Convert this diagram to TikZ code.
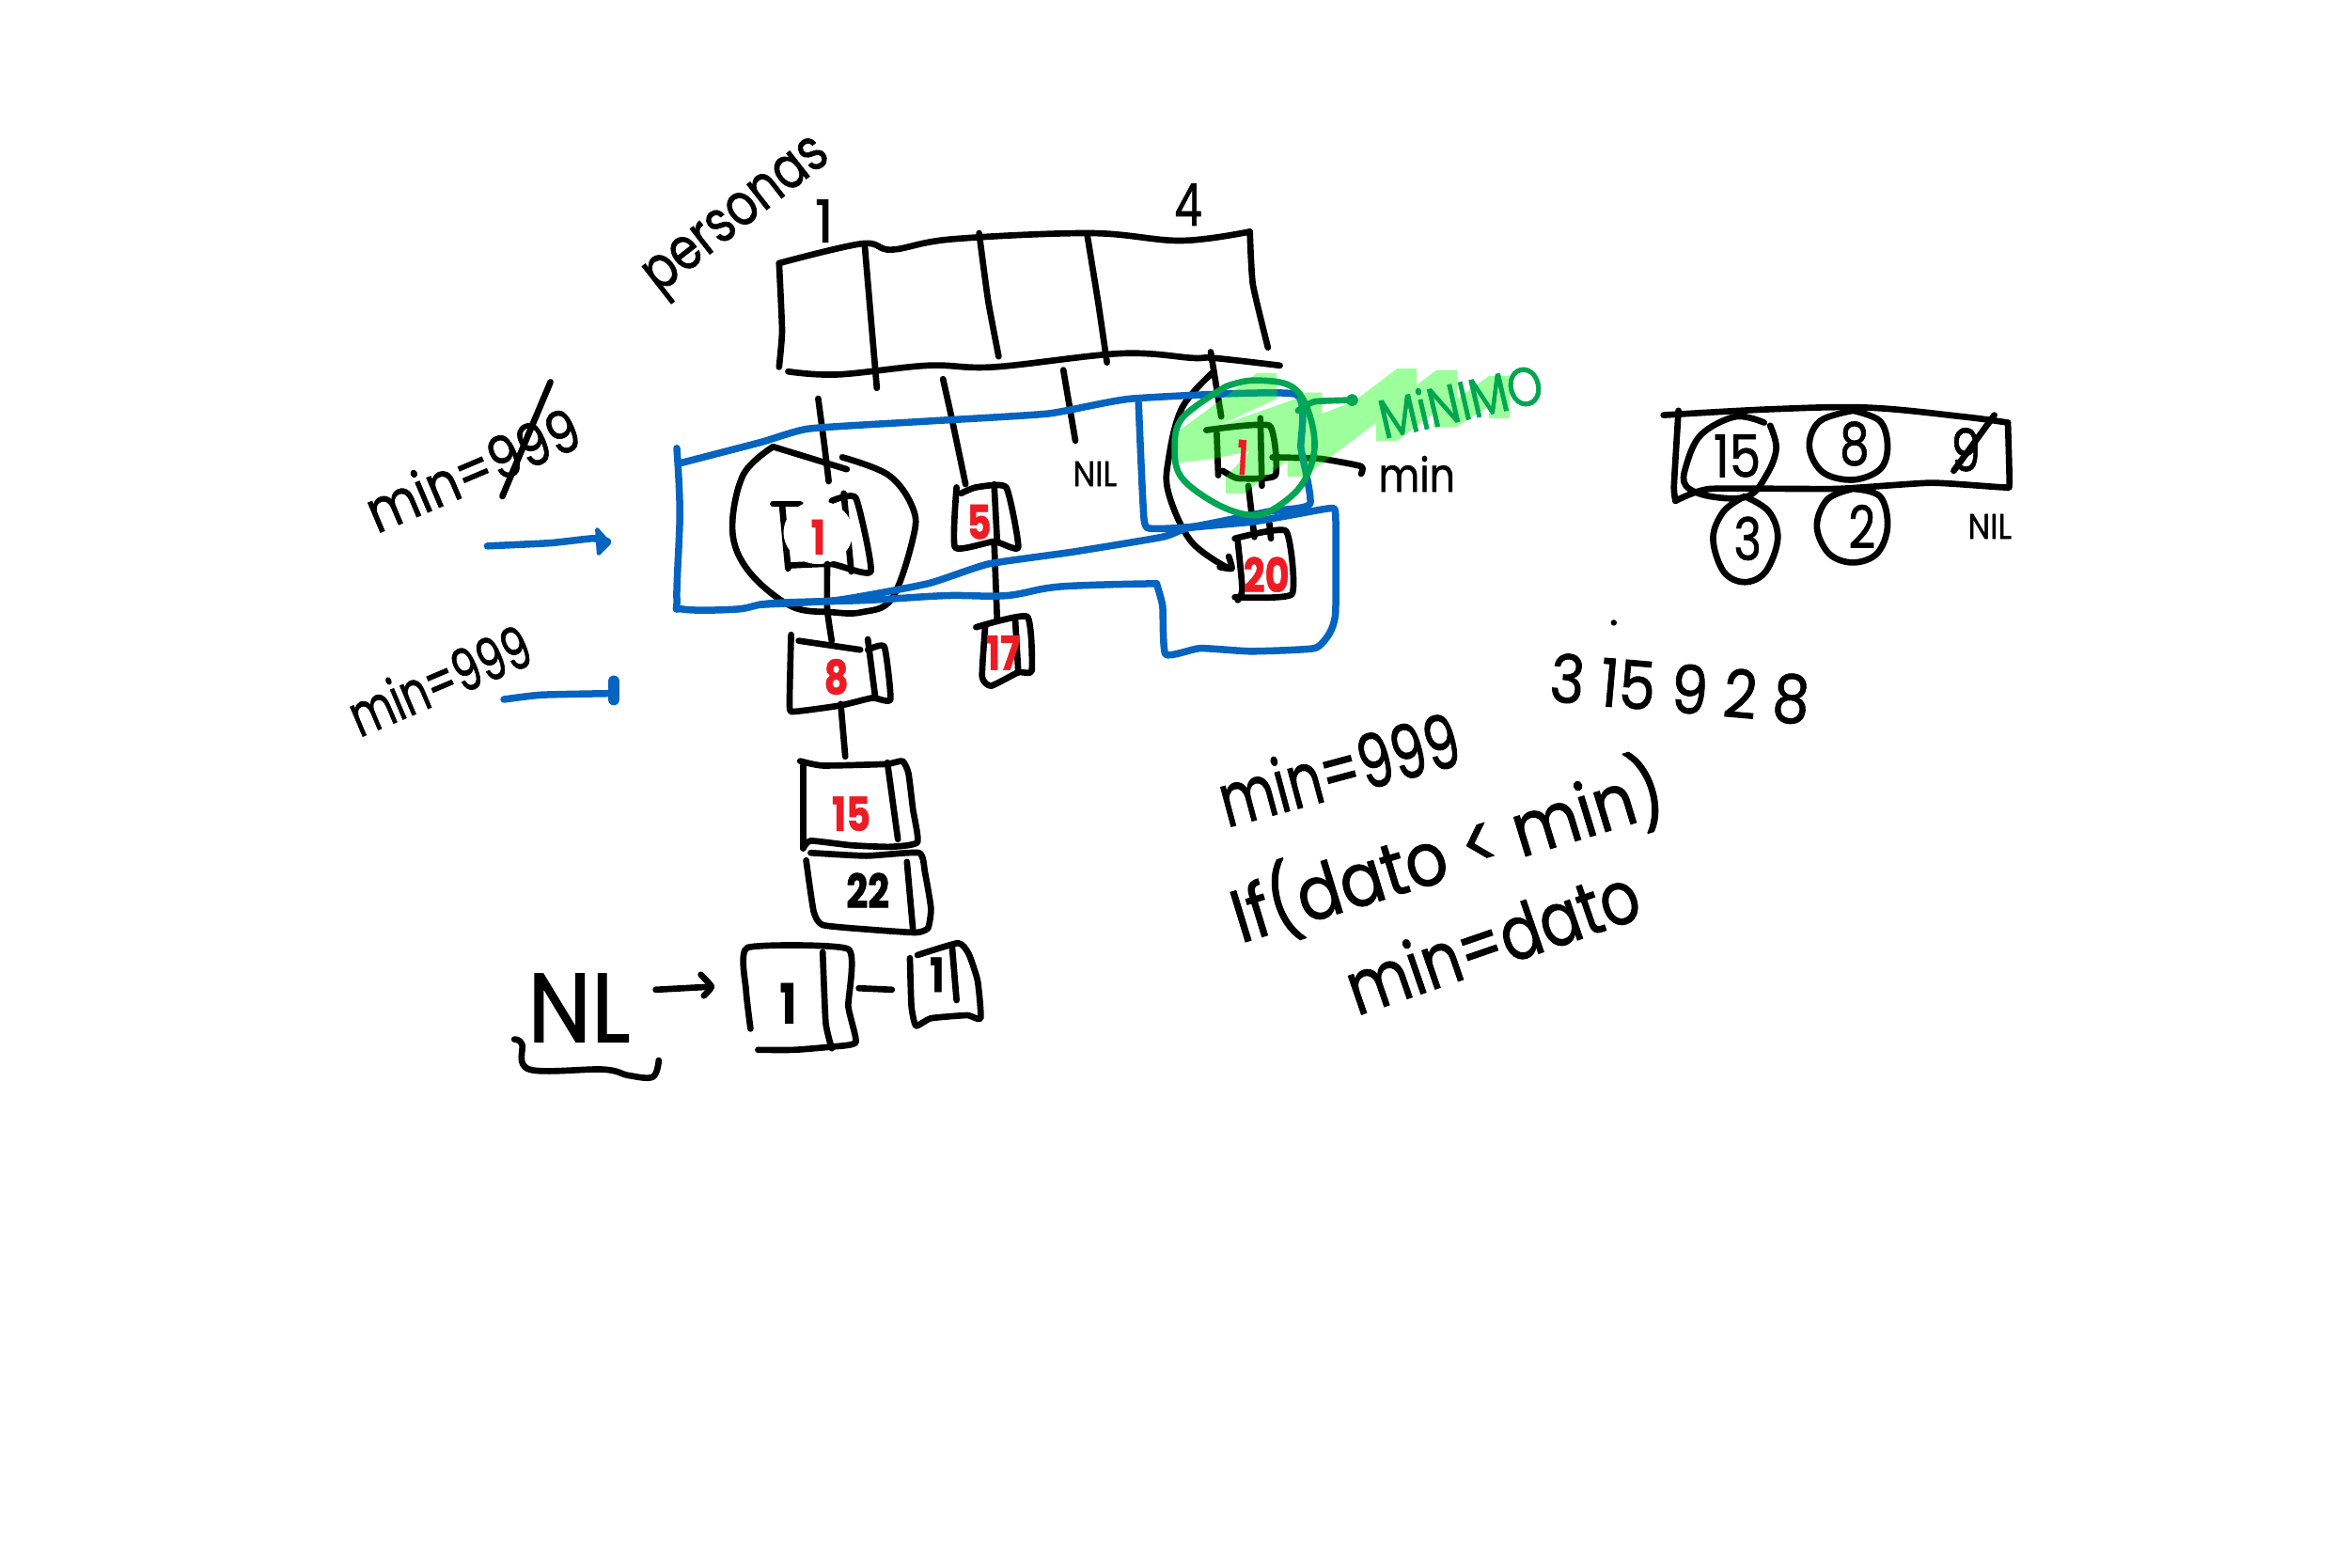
\documentclass[tikz,border=0pt]{standalone}
\usepackage{fontspec}
\setmainfont{Poppins}[FakeBold=1.2]
\definecolor{c0563c1}{RGB}{5,100,192}
\definecolor{c00a651}{RGB}{0,166,81}
\definecolor{ced1c24}{RGB}{237,28,36}
\definecolor{c00ff00}{RGB}{0,255,0}
\tikzset{
  ink/.style={draw=black,line width=1.6pt,line cap=round,line join=round},
  bluepen/.style={draw=c0563c1,line width=1.8pt,line cap=round,line join=round},
  greenpen/.style={draw=c00a651,line width=1.6pt,line cap=round,line join=round},
  redlabel/.style={text=ced1c24,font=\bfseries\fontsize{12}{12}\selectfont,xscale=.8},
  inklabel/.style={text=black,font=\fontsize{15}{15}\selectfont},
  smalllabel/.style={text=black,font=\fontsize{9}{9}\selectfont,xscale=.9}
}
\newcommand{\inkline}[2]{\path[#1] plot[smooth,tension=.3] coordinates {#2};}
\newcommand{\roundline}[2]{\path[#1] plot[smooth,tension=.6] coordinates {#2};}
\begin{document}
\begin{tikzpicture}[x=0.384pt, y=-0.384pt, inner sep=0pt, outer sep=0pt]
  \useasboundingbox (0,0) rectangle (1562.5,1041.875);

  % array
  \roundline{ink}{(518,175) (573,162) (593,166) (633,159) (725,155) (785,160) (831,154)}
  \inkline{ink}{(831,154) (833,189) (843,231)}
  \inkline{ink}{(518,175) (520,220) (518,244)}
  \roundline{ink}{(524,247) (557,249) (617,243) (661,244) (745,235) (793,238) (807,238) (851,243)}
  \inkline{ink}{(575,164) (583,258)}
  \inkline{ink}{(651,155) (657,200) (664,237)}
  \inkline{ink}{(723,157) (730,200) (736,241)}
  \node[inklabel,rotate=38,xscale=.8] (titulo) at (492,146) {personas};
  \node[inklabel] (cuno) at (548,147) {1};
  \node[inklabel,xscale=.75] (ccuatro) at (790,136) {4};

  % pointers
  \inkline{ink}{(544,265) (548,295) (551,320)}
  \inkline{ink}{(627,252) (633,279) (642,322)}
  \inkline{ink}{(707,246) (715,293)}
  \inkline{ink}{(805,234) (812,277)}
  \roundline{ink}{(807,247) (786,271) (777,305) (777,328) (792,360) (817,378)}
  \inkline{ink}{(817,370) (819,378) (811,377)}
  \node[smalllabel] (nilcuatro) at (728,315) {NIL};

  % first list
  \roundline{ink}{(560,304) (591,316) (607,338) (607,358) (593,398) (573,407) (553,407) (526,403) (498,380) (487,353) (494,316) (514,297)}
  \inkline{ink}{(514,297) (563,312)}
  \inkline{ink}{(514,335) (532,335)}
  \inkline{ink}{(520,336) (524,378)}
  \inkline{ink}{(524,376) (553,375) (579,380) (569,331) (553,333)}
  \inkline{ink}{(561,328) (566,380)}
  \fill[white] (544,354) ellipse (23 and 21);
  \inkline{ink}{(550,375) (550,405) (553,426)}
  \node[redlabel] (datouno) at (544,357) {1};

  \inkline{ink}{(526,422) (525,470) (529,473) (559,469) (580,464) (592,465) (588,430) (577,432)}
  \inkline{ink}{(531,426) (572,432)}
  \inkline{ink}{(577,425) (582,464)}
  \inkline{ink}{(559,468) (562,503)}
  \node[redlabel] (datoocho) at (556,450) {8};

  \inkline{ink}{(532,506) (547,509) (589,508) (600,506) (604,514) (607,538) (610,560) (592,563) (566,562) (539,559) (534,564)}
  \inkline{ink}{(534,509) (534,564)}
  \inkline{ink}{(590,507) (597,558)}
  \node[redlabel] (datoquince) at (566,541) {15};

  \inkline{ink}{(539,567) (576,569) (611,567) (615,580) (619,604) (617,617) (609,620) (578,618) (547,615) (541,606) (536,572)}
  \inkline{ink}{(603,573) (607,618)}
  \node[redlabel,text=black] (datoveintidos) at (577,592) {22};

  % second list
  \inkline{ink}{(636,324) (635,364) (661,360) (677,364) (669,324) (649,324) (639,328)}
  \inkline{ink}{(661,322) (663,360)}
  \inkline{ink}{(661,360) (663,412)}
  \node[redlabel] (datocinco) at (651,347) {5};
  \inkline{ink}{(649,417) (683,410) (686,446) (677,447) (659,456) (653,450) (655,417)}
  \inkline{ink}{(675,412) (677,446)}
  \node[redlabel] (datodiecisiete) at (667,434) {17};

  % fifth list
  \inkline{ink}{(802,286) (844,283) (848,316) (823,318) (813,313)}
  \inkline{ink}{(809,288) (810,316)}
  \inkline{ink}{(838,278) (839,323)}
  \inkline{ink}{(830,323) (834,357)}
  \inkline{ink}{(844,348) (845,358)}
  \inkline{ink}{(846,304) (878,305) (905,310) (905,315)}
  \inkline{ink}{(821,358) (855,353) (859,395) (821,397)}
  \inkline{ink}{(823,360) (826,392) (823,399)}
  \node[redlabel] (datoveinte) at (842,382) {20};
  \node[text=black,font=\fontsize{12}{12}\selectfont,xscale=.85] (etiqmin) at (942,315) {min};

  % recorrido
  \roundline{bluepen}{(450,298) (452,341) (450,398) (454,405) (490,405) (514,401) (577,399) (629,396) (669,396) (705,390) (769,388)}
  \inkline{bluepen}{(769,388) (773,403) (775,435) (798,431) (832,433) (874,431) (884,421) (888,407) (888,342) (884,338) (861,342) (832,347) (790,351) (773,357) (713,367) (657,375) (617,388) (557,399) (505,402)}
  \inkline{bluepen}{(452,308) (506,294) (538,285) (617,280) (697,275) (753,265) (861,262) (865,298) (871,335) (844,340) (794,350) (763,351) (760,335) (757,268)}
  \inkline{bluepen}{(324,363) (366,361) (394,358) (404,360)}
  \path[draw=c0563c1,fill=c0563c1,line width=1pt,line join=round] (397,352) -- (405,361) -- (398,368) -- cycle;
  \inkline{bluepen}{(335,465) (360,462) (408,461)}
  \path[draw=c0563c1,line width=3pt,line cap=round] (408,453) -- (408,465);

  % resaltado
  \path[fill=c00ff00,fill opacity=.39] (783,287) -- (836,248) -- (849,248) -- (849,265) -- (808,284) -- (862,265) -- (867,261) -- (879,261) -- (879,275) -- (900,267) -- (929,245) -- (942,245) -- (942,256) -- (955,246) -- (969,246) -- (969,265) -- (990,250) -- (1004,250) -- (1004,278) -- (990,278) -- (990,270) -- (968,284) -- (953,284) -- (953,275) -- (929,293) -- (915,293) -- (915,281) -- (867,317) -- (856,317) -- (856,306) -- (827,328) -- (815,328) -- (815,317) -- (831,300) -- (806,305) -- (781,308) -- cycle;
  \node[redlabel,rotate=-4,xscale=.7] (datominimo) at (826,304) {1};
  \roundline{greenpen}{(815,257) (832,253) (857,256) (869,271) (874,298) (865,323) (844,340) (828,342) (807,334) (786,318) (781,300) (786,278) (815,257)}
  \inkline{greenpen}{(863,273) (874,267) (899,266)}
  \path[fill=c00a651] (899,266) circle (4);
  \node[text=c00a651,font=\fontsize{14}{14}\selectfont,rotate=13,xscale=.82] (etiqminimo) at (971,266) {MiNIMO};

  % contadores
  \node[inklabel,rotate=23,xscale=.85] (minuno) at (314,312) {min=999};
  \inkline{ink}{(366,254) (334,330)}
  \node[inklabel,rotate=23,xscale=.72] (mindos) at (292,452) {min=999};

  % nueva lista
  \node[text=black,font=\fontsize{25}{25}\selectfont,xscale=.92] (nl) at (385,670) {NL};
  \roundline{ink}{(342,691) (347,694) (352,711) (401,711) (418,715) (434,716) (438,705)}
  \inkline{ink}{(436,658) (473,656)}
  \inkline{ink}{(466,648) (473,656) (468,662)}
  \inkline{ink}{(499,684) (496,658) (497,630) (564,631) (564,669) (569,693) (552,696) (528,698) (504,698)}
  \inkline{ink}{(547,633) (549,680) (553,697)}
  \node[redlabel,text=black,font=\bfseries\fontsize{14}{14}\selectfont] (nluno) at (524,667) {1};
  \inkline{ink}{(571,657) (593,658)}
  \inkline{ink}{(605,637) (606,669) (609,682) (619,677) (643,675) (652,677) (650,652) (644,634) (637,627) (610,635)}
  \inkline{ink}{(633,629) (636,665)}
  \node[redlabel,text=black] (nldos) at (623,648) {1};

  % vector derecho
  \roundline{ink}{(1106,276) (1179,272) (1242,271) (1305,277) (1335,281)}
  \inkline{ink}{(1335,281) (1336,322) (1332,324) (1284,321) (1221,325) (1137,325) (1114,333)}
  \inkline{ink}{(1116,273) (1113,323) (1114,333)}
  \roundline{ink}{(1177,283) (1181,298) (1175,315) (1162,330) (1137,330) (1121,323) (1121,310) (1131,289) (1154,277) (1173,281)}
  \roundline{ink}{(1232,273) (1250,280) (1255,297) (1250,312) (1232,319) (1212,314) (1203,297) (1210,280) (1232,273)}
  \roundline{ink}{(1232,325) (1250,330) (1255,350) (1248,368) (1232,374) (1216,368) (1208,350) (1215,332) (1232,325)}
  \roundline{ink}{(1160,330) (1176,340) (1182,358) (1174,380) (1160,387) (1146,380) (1139,358) (1146,340) (1160,330)}
  \node[inklabel,xscale=.85] (vquince) at (1155,303) {15};
  \node[inklabel,xscale=.8] (vocho) at (1233,295) {8};
  \node[inklabel,xscale=.8] (vdos) at (1238,350) {2};
  \node[inklabel,xscale=.8] (vtres) at (1162,358) {3};
  \node[inklabel,xscale=.8] (vnueve) at (1307,299) {9};
  \inkline{ink}{(1326,276) (1299,313)}
  \node[smalllabel] (vnil) at (1323,350) {NIL};
  \fill (1073,414) circle (2);
  \node[text=black,font=\fontsize{17}{17}\selectfont,rotate=-5,xscale=.88] (secuencia) at (1117,458) {3 15 9 2 8};

  % pseudocodigo
  \node[text=black,font=\fontsize{19}{19}\selectfont,rotate=15,xscale=.73] (codmin) at (890,511) {min=999};
  \node[text=black,font=\fontsize{19}{19}\selectfont,rotate=17,xscale=.88] (codif) at (962,566) {If(dato < min)};
  \node[text=black,font=\fontsize{19}{19}\selectfont,rotate=19,xscale=.82] (codasig) at (992,625) {min=dato};
\end{tikzpicture}
\end{document}
